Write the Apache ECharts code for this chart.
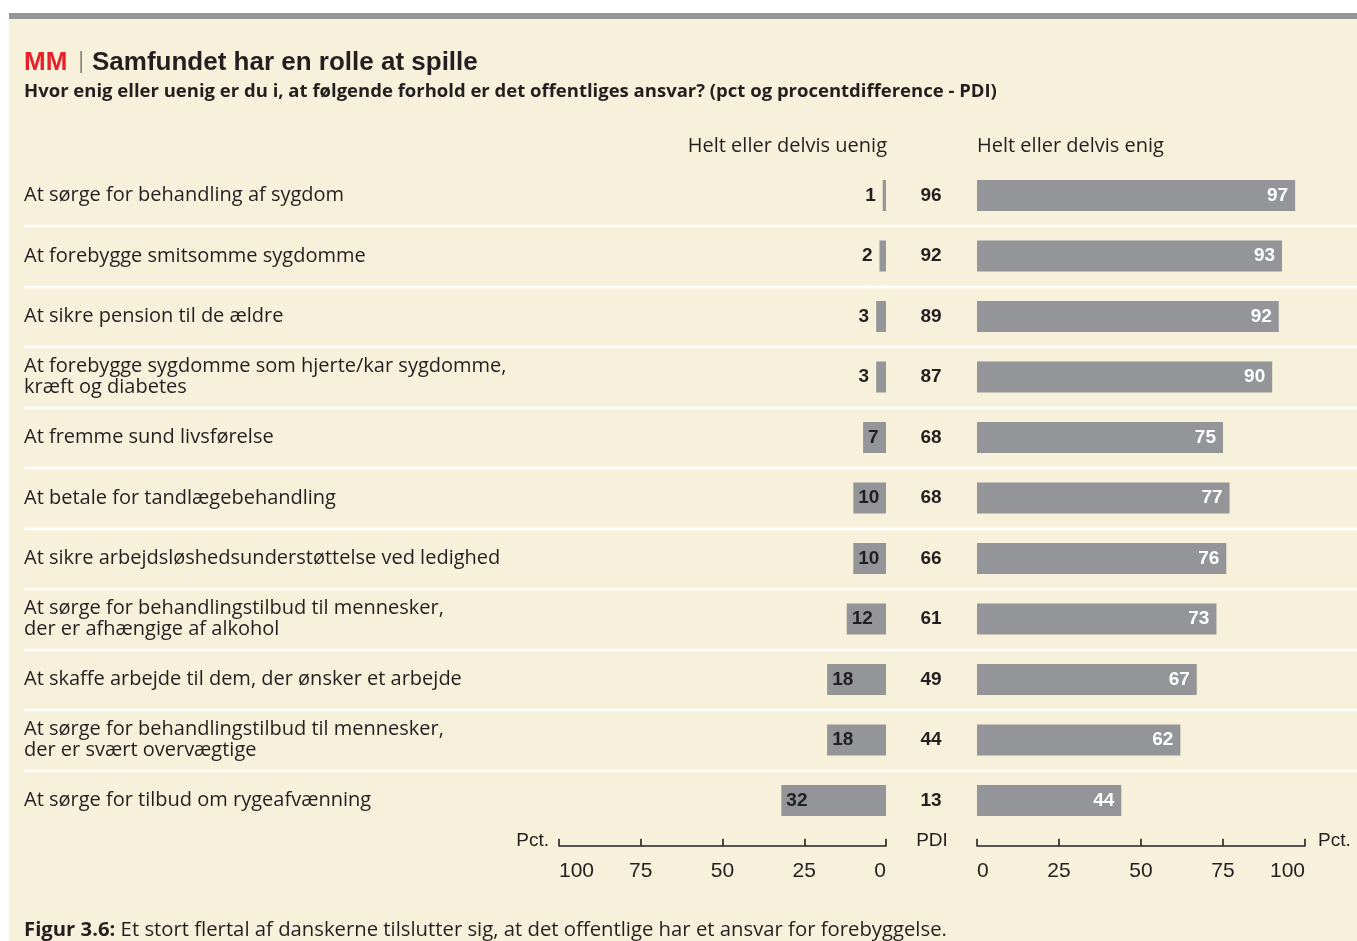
<!DOCTYPE html>
<html>
<head>
<meta charset="utf-8">
<script src="https://cdn.jsdelivr.net/npm/echarts@6/dist/echarts.min.js"></script>
<style>
  html, body { margin: 0; padding: 0; background: #ffffff; }
  #chart { width: 1357px; height: 941px; }
</style>
</head>
<body>
<div id="chart"></div>
<script>
// Survey statements (top to bottom)
const categories = [
  'At sørge for behandling af sygdom',
  'At forebygge smitsomme sygdomme',
  'At sikre pension til de ældre',
  'At forebygge sygdomme som hjerte/kar sygdomme,\nkræft og diabetes',
  'At fremme sund livsførelse',
  'At betale for tandlægebehandling',
  'At sikre arbejdsløshedsunderstøttelse ved ledighed',
  'At sørge for behandlingstilbud til mennesker,\nder er afhængige af alkohol',
  'At skaffe arbejde til dem, der ønsker et arbejde',
  'At sørge for behandlingstilbud til mennesker,\nder er svært overvægtige',
  'At sørge for tilbud om rygeafvænning'
];
// Helt eller delvis uenig (pct)
const uenig = [1, 2, 3, 3, 7, 10, 10, 12, 18, 18, 32];
// Procentdifference (PDI)
const pdi = [96, 92, 89, 87, 68, 68, 66, 61, 49, 44, 13];
// Helt eller delvis enig (pct)
const enig = [97, 93, 92, 90, 75, 77, 76, 73, 67, 62, 44];
// Axis tick values (pct)
const pctTicks = [0, 25, 50, 75, 100];

const FONT = '"Liberation Sans", Arial, sans-serif';
const TEXT_FONT = '"Open Sans", "Liberation Sans", Arial, sans-serif';
const INK = '#231f20';
const BAR = '#939598';
const CREAM = '#f7f0da';

const rowTop = 165.25;
const rowHeight = 665.5;

const axisMin = pctTicks[0];
const axisMax = pctTicks[pctTicks.length - 1];
const axisStep = pctTicks[1] - pctTicks[0];

function pctAxis(gridIndex, inverse) {
  return {
    type: 'value',
    gridIndex: gridIndex,
    inverse: inverse,
    min: axisMin,
    max: axisMax,
    interval: axisStep,
    position: 'bottom',
    offset: 15,
    axisLine: { show: true, lineStyle: { color: INK, width: 1.6 } },
    axisTick: { show: true, inside: true, length: 7, lineStyle: { color: INK, width: 1.6 } },
    splitLine: { show: false },
    axisLabel: {
      show: true,
      color: INK,
      fontFamily: FONT,
      fontSize: 21,
      margin: 15,
      alignMinLabel: inverse ? 'right' : 'left',
      alignMaxLabel: inverse ? 'left' : 'right'
    }
  };
}

const chart = echarts.init(document.getElementById('chart'), null, { renderer: 'canvas' });

const option = {
  animation: false,
  backgroundColor: '#ffffff',
  textStyle: { fontFamily: TEXT_FONT },
  graphic: [
    // panel and top rule
    { type: 'rect', z: -10, shape: { x: 9, y: 19, width: 1348, height: 922 }, style: { fill: CREAM } },
    { type: 'rect', z: -10, shape: { x: 9, y: 13, width: 1348, height: 6 }, style: { fill: BAR } },
    // heading
    { type: 'text', x: 24, y: 63, style: { text: 'MM', font: 'bold 26px ' + FONT, fill: '#e8202a', verticalAlign: 'middle' } },
    { type: 'rect', shape: { x: 80.5, y: 51, width: 1.2, height: 22 }, style: { fill: '#555555' } },
    { type: 'text', x: 92, y: 63, style: { text: 'Samfundet har en rolle at spille', font: 'bold 26px ' + FONT, fill: INK, verticalAlign: 'middle' } },
    { type: 'text', x: 24, y: 92, style: { text: 'Hvor enig eller uenig er du i, at følgende forhold er det offentliges ansvar? (pct og procentdifference - PDI)', font: 'bold 18.5px ' + TEXT_FONT, fill: INK, verticalAlign: 'middle' } },
    // column headers
    { type: 'text', x: 887, y: 146, style: { text: 'Helt eller delvis uenig', font: '20px ' + TEXT_FONT, fill: INK, align: 'right', verticalAlign: 'middle' } },
    { type: 'text', x: 977, y: 146, style: { text: 'Helt eller delvis enig', font: '20px ' + TEXT_FONT, fill: INK, align: 'left', verticalAlign: 'middle' } },
    // axis captions
    { type: 'text', x: 549, y: 841, style: { text: 'Pct.', font: '19px ' + FONT, fill: INK, align: 'right', verticalAlign: 'middle' } },
    { type: 'text', x: 932, y: 841, style: { text: 'PDI', font: '19px ' + FONT, fill: INK, align: 'center', verticalAlign: 'middle' } },
    { type: 'text', x: 1318, y: 841, style: { text: 'Pct.', font: '19px ' + FONT, fill: INK, align: 'left', verticalAlign: 'middle' } },
    // caption
    {
      type: 'text', x: 24, y: 930,
      style: {
        text: '{b|Figur 3.6:} Et stort flertal af danskerne tilslutter sig, at det offentlige har et ansvar for forebyggelse.',
        font: '20.3px ' + TEXT_FONT, fill: INK, verticalAlign: 'middle',
        rich: { b: { fontWeight: 'bold', fontSize: 20.3, fontFamily: TEXT_FONT, fill: INK } }
      }
    }
  ],
  grid: [
    { left: 559, width: 327, top: rowTop, height: rowHeight },
    { left: 977, width: 328, top: rowTop, height: rowHeight },
    { left: 24, right: 0, top: rowTop, height: rowHeight }
  ],
  xAxis: [
    pctAxis(0, true),
    pctAxis(1, false),
    { type: 'value', gridIndex: 2, min: 0, max: 1, show: false }
  ],
  yAxis: [
    {
      type: 'category', gridIndex: 0, inverse: true, data: categories,
      axisLine: { show: false }, axisTick: { show: false }, splitLine: { show: false },
      axisLabel: {
        color: INK, fontFamily: TEXT_FONT, fontSize: 20, lineHeight: 21,
        align: 'left', margin: 535, padding: [3, 0, 0, 0]
      }
    },
    {
      type: 'category', gridIndex: 1, inverse: true, data: categories,
      axisLine: { show: false }, axisTick: { show: false }, splitLine: { show: false },
      axisLabel: {
        color: INK, fontFamily: FONT, fontSize: 19, fontWeight: 'bold',
        align: 'center', margin: 46, padding: [2, 0, 0, 0],
        formatter: function (value, index) { return String(pdi[index]); }
      }
    },
    {
      type: 'category', gridIndex: 2, inverse: true, data: categories,
      axisLine: { show: false }, axisTick: { show: false }, axisLabel: { show: false },
      splitLine: { show: true, showMinLine: false, showMaxLine: false, lineStyle: { color: '#ffffff', width: 2.4 } }
    }
  ],
  series: [
    {
      name: 'Helt eller delvis uenig',
      type: 'bar', xAxisIndex: 0, yAxisIndex: 0,
      barWidth: 31,
      itemStyle: { color: BAR },
      label: {
        show: true, color: INK, fontFamily: FONT, fontSize: 19, fontWeight: 'bold', distance: 5
      },
      data: uenig.map(function (v) {
        return {
          value: v,
          label: v < 5 ? { position: 'left', distance: 7 } : { position: 'insideLeft', distance: 5 }
        };
      })
    },
    {
      name: 'Helt eller delvis enig',
      type: 'bar', xAxisIndex: 1, yAxisIndex: 1,
      barWidth: 31,
      itemStyle: { color: BAR },
      label: {
        show: true, position: 'insideRight', distance: 7,
        color: '#ffffff', fontFamily: FONT, fontSize: 19, fontWeight: 'bold'
      },
      data: enig
    }
  ]
};

chart.setOption(option);
</script>
</body>
</html>
